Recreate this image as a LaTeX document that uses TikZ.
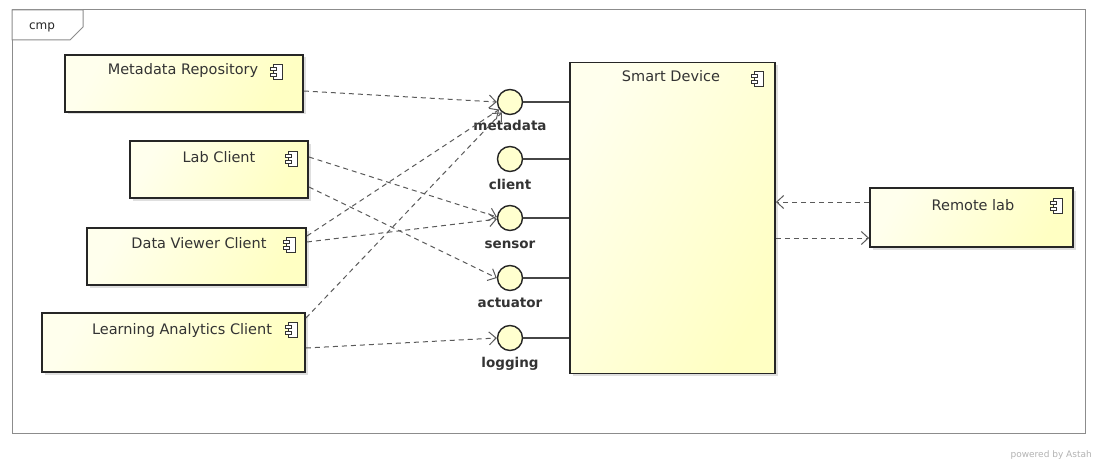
\documentclass[tikz,border=0pt]{standalone}
\usepackage{fontspec}
\setmainfont{DejaVu Sans}
\usetikzlibrary{arrows.meta,shadows,calc}
\definecolor{compY}{RGB}{255,255,195}
\definecolor{lineC}{RGB}{70,70,70}
\definecolor{dashC}{RGB}{90,90,90}
\tikzset{
  comp/.style={draw=black!85, line width=1.9pt, left color=compY!30, right color=compY, shading angle=60,
    drop shadow={shadow xshift=2.5pt, shadow yshift=-2.5pt, opacity=0.25}, inner sep=0pt},
  ctext/.style={font=\fontsize{14.5}{16}\selectfont, text=black!80, inner sep=0pt, anchor=base},
  iface/.style={circle, draw=black!85, line width=1.4pt, fill=compY!80, minimum size=25pt, inner sep=0pt},
  ilabel/.style={font=\bfseries\fontsize{13.5}{15}\selectfont, text=black!80, inner sep=0pt, anchor=base},
  dep/.style={draw=dashC, line width=1pt, dash pattern=on 5pt off 4pt, -{Straight Barb[length=7pt,width=13pt]}},
  iline/.style={draw=lineC, line width=1.1pt}
}
\newcommand{\cicon}[1]{%
  \draw[line width=0.8pt, draw=black!80, fill=white] ($(#1)+(-4,-7.5)$) rectangle ($(#1)+(5,7.5)$);
  \draw[line width=0.8pt, draw=black!80, fill=white] ($(#1)+(-7,-4.5)$) rectangle ($(#1)+(-1,-1.5)$);
  \draw[line width=0.8pt, draw=black!80, fill=white] ($(#1)+(-7,1.5)$) rectangle ($(#1)+(-1,4.5)$);
}
\begin{document}
\begin{tikzpicture}[x=1pt,y=-1pt]
\useasboundingbox (0,0) rectangle (1097,468);
% frame
\draw[draw=black!45, line width=1pt] (12,10) rectangle (1085,433);
\draw[draw=black!45, line width=1pt, fill=white] (12,10) -- (83,10) -- (83,27) -- (70,40) -- (12,40) -- cycle;
\node[font=\fontsize{12}{14}\selectfont, text=black!85, anchor=base, inner sep=0pt] (cmp) at (42,30) {cmp};

% components
\node[comp, minimum width=238pt, minimum height=57pt] (mr) at (184,83.5) {};
\node[ctext] (mrt) at (183,75) {Metadata Repository};
\cicon{277,72}

\node[comp, minimum width=178pt, minimum height=57pt] (lc) at (219,169.5) {};
\node[ctext] (lct) at (219,162) {Lab Client};
\cicon{292,159}

\node[comp, minimum width=219pt, minimum height=57pt] (dv) at (196.5,256.5) {};
\node[ctext] (dvt) at (199,248) {Data Viewer Client};
\cicon{290,245}

\node[comp, minimum width=263pt, minimum height=59pt] (la) at (173.5,342.5) {};
\node[ctext] (lat) at (182,334) {Learning Analytics Client};
\cicon{292,330}

\node[comp, minimum width=205pt, minimum height=311pt] (sd) at (672.5,218) {};
\node[ctext] (sdt) at (671,82) {Smart Device};
\cicon{758,79}

\node[comp, minimum width=203pt, minimum height=59pt] (rl) at (971.5,217.5) {};
\node[ctext] (rlt) at (973,210) {Remote lab};
\cicon{1057,206}

% interfaces
\node[iface] (im) at (510,102) {};
\node[ilabel] (iml) at (510,131) {metadata};
\node[iface] (ic) at (510,159) {};
\node[ilabel] (icl) at (510,189) {client};
\node[iface] (is) at (510,218) {};
\node[ilabel] (isl) at (510,248) {sensor};
\node[iface] (ia) at (510,278) {};
\node[ilabel] (ial) at (510,307) {actuator};
\node[iface] (ig) at (510,338) {};
\node[ilabel] (igl) at (510,367) {logging};

\foreach \i in {im,ic,is,ia,ig}
  \draw[iline] (\i.east) -- (\i.east -| sd.west);

% dependencies
\draw[dep] (mr.east |- 0,91) -- (im.west);
\draw[dep] (lc.east |- 0,157) -- (is.175);
\draw[dep] (lc.east |- 0,187) -- (ia.west);
\draw[dep] (dv.east |- 0,236) -- (im.215);
\draw[dep] (dv.east |- 0,242) -- (is.185);
\draw[dep] (la.east |- 0,318) -- (im.232);
\draw[dep] (la.east |- 0,348) -- (ig.west);
\draw[dep] (rl.west |- 0,202) -- (sd.east |- 0,202);
\draw[dep] (sd.east |- 0,238) -- (rl.west |- 0,238);

% watermark
\node[font=\fontsize{9}{10}\selectfont, text=black!30, anchor=base east, inner sep=0pt] (wm) at (1092,457) {powered by Astah};
\end{tikzpicture}
\end{document}
